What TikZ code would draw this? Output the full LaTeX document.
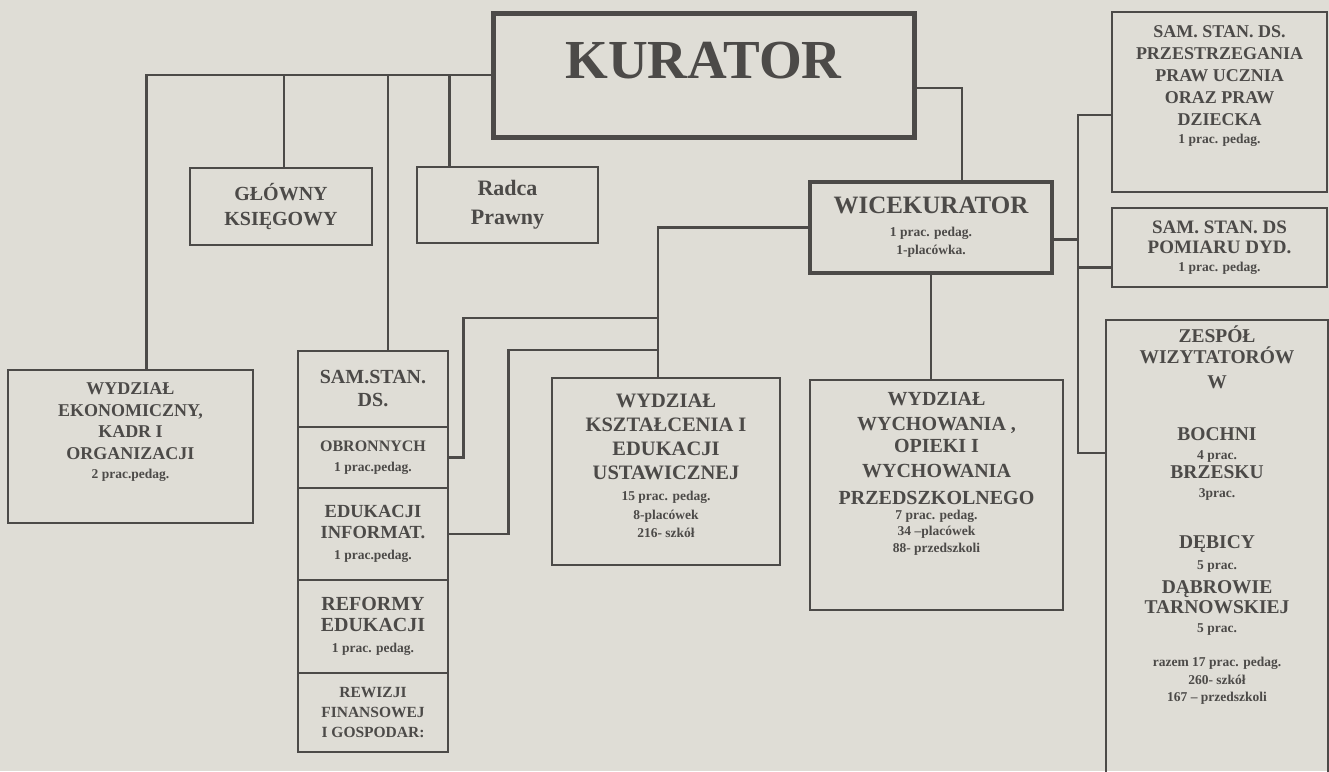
\documentclass[tikz,border=0pt]{standalone}
\usepackage{fontspec}
\setmainfont{Liberation Serif}
\newcommand{\fsz}[2]{\bfseries\fontsize{#1}{#2}\selectfont}
\newcommand{\sml}{\fontsize{13.5}{15}\selectfont}
\definecolor{paper}{RGB}{223,221,214}
\definecolor{ink}{RGB}{76,74,72}

\begin{document}
\begin{tikzpicture}[x=1pt,y=-1pt,
  ln/.style={draw=ink,line width=2.7pt},
  box/.style={draw=ink,line width=2.7pt,text=ink,inner sep=0pt,align=center}]
  \fill[paper] (0,0) rectangle (1329,771);
  \useasboundingbox (0,0) rectangle (1329,771);
  \clip (0,0) rectangle (1329,771);

  \node[box,line width=5pt,minimum width=421,minimum height=124,text depth=30pt,font=\fsz{55}{60}] (kur) at (703.5,75) {KURATOR};
  \node[box,line width=4.5pt,minimum width=242,minimum height=91,font=\fsz{25}{23}] (wice) at (931,227.5) {WICEKURATOR\\{\sml 1 prac. pedag.}\\[-5pt]{\sml 1-placówka.}};

  \node[box,minimum width=182,minimum height=77,font=\fsz{20}{25}] (glow) at (281,206.5) {GŁÓWNY\\KSIĘGOWY};
  \node[box,minimum width=181,minimum height=76,font=\fsz{22}{29}] (radca) at (507.5,205) {Radca\\Prawny};
  \node[box,minimum width=245,minimum height=153,text depth=31pt,font=\fsz{18}{21.5}] (ekon) at (130.5,446.5) {WYDZIAŁ\\EKONOMICZNY,\\KADR I\\ORGANIZACJI\\[-2pt]{\sml 2 prac.pedag.}};

  % samodzielne stanowiska
  \node[box,minimum width=150,minimum height=76,font=\fsz{20}{23}] (ds) at (373,389) {SAM.STAN.\\DS.};
  \node[box,minimum width=150,minimum height=61,font=\fsz{16}{20}] (obr) at (373,457.5) {OBRONNYCH\\{\sml 1 prac.pedag.}};
  \node[box,minimum width=150,minimum height=92,font=\fsz{18.5}{21}] (edu) at (373,534) {EDUKACJI\\INFORMAT.\\{\sml 1 prac.pedag.}};
  \node[box,minimum width=150,minimum height=93,font=\fsz{20}{21}] (ref) at (373,626.5) {REFORMY\\EDUKACJI\\{\sml 1 prac. pedag.}};
  \node[box,minimum width=150,minimum height=79,font=\fsz{15.5}{20}] (rew) at (373,712.5) {REWIZJI\\FINANSOWEJ\\I GOSPODAR:};

  \node[box,minimum width=228,minimum height=187,text depth=12pt,font=\fsz{20.5}{24}] (kszt) at (666,471.5) {WYDZIAŁ\\KSZTAŁCENIA I\\EDUKACJI\\USTAWICZNEJ\\[-3pt]{\sml 15 prac. pedag.}\\[-5pt]{\sml 8-placówek}\\[-6pt]{\sml 216- szkół}};
  \node[box,minimum width=253,minimum height=230,text depth=45pt,font=\fsz{20}{25}] (wych) at (936.5,495) {WYDZIAŁ\\WYCHOWANIA ,\\[-3pt]OPIEKI I\\WYCHOWANIA\\[2pt]PRZEDSZKOLNEGO\\[-10pt]{\sml 7 prac. pedag.}\\[-9pt]{\sml 34 –placówek}\\[-8pt]{\sml 88- przedszkoli}};

  % prawa kolumna
  \node[box,minimum width=215,minimum height=180,text depth=34pt,font=\fsz{18}{22}] (prz) at (1219.5,102) {SAM. STAN. DS.\\PRZESTRZEGANIA\\PRAW UCZNIA\\ORAZ PRAW\\DZIECKA\\[-4pt]{\sml 1 prac. pedag.}};
  \node[box,minimum width=215,minimum height=79,font=\fsz{19}{20.5}] (pom) at (1219.5,247.5) {SAM. STAN. DS\\POMIARU DYD.\\[-3pt]{\sml 1 prac. pedag.}};
  \node[box,minimum width=222,minimum height=470,text depth=83pt,font=\fsz{19.5}{21}] (zesp) at (1217,555) {ZESPÓŁ\\WIZYTATORÓW\\[4pt]W\\[31pt]BOCHNI\\[-2.5pt]{\sml 4 prac.}\\[-1.5pt]BRZESKU\\[-2.5pt]{\sml 3prac.}\\[30.5pt]DĘBICY\\[-0.5pt]{\sml 5 prac.}\\[3.5pt]DĄBROWIE\\[-1pt]TARNOWSKIEJ\\[-2.5pt]{\sml 5 prac.}\\[13pt]{\sml razem 17 prac. pedag.}\\[-3pt]{\sml 260- szkół}\\[-4pt]{\sml 167 – przedszkoli}};

  \foreach \n/\s in {ekon/16,glow/3,ds/15,radca/-58}{% od kuratora w lewo
    \draw[ln] (kur.west) -| ([xshift=\s]\n.north);  }
  \draw[ln] ([yshift=-13]kur.east) -| ([xshift=31]wice.north);

  \coordinate (j1) at (658,318);
  \coordinate (j2) at (658,350);
  \draw[ln] (wice.west) -| ([xshift=-8]kszt.north);
  \draw[ln] (obr.east) -- ++(14,0) |- (j1);
  \draw[ln] (edu.east) -- ++(59,0) |- (j2);
  \draw[ln] (wice.south) -- (wice.south |- wych.north);

  \coordinate (rb) at (1078,453);
  \draw[ln] ([yshift=-13]prz.west) -| (rb) -- (rb -| zesp.west);
  \draw[ln] ([yshift=-12]wice.east) -- ([yshift=-12]wice.east -| rb);
  \draw[ln] ([yshift=-20]pom.west) -- ([yshift=-20]pom.west -| rb);
\end{tikzpicture}
\end{document}
